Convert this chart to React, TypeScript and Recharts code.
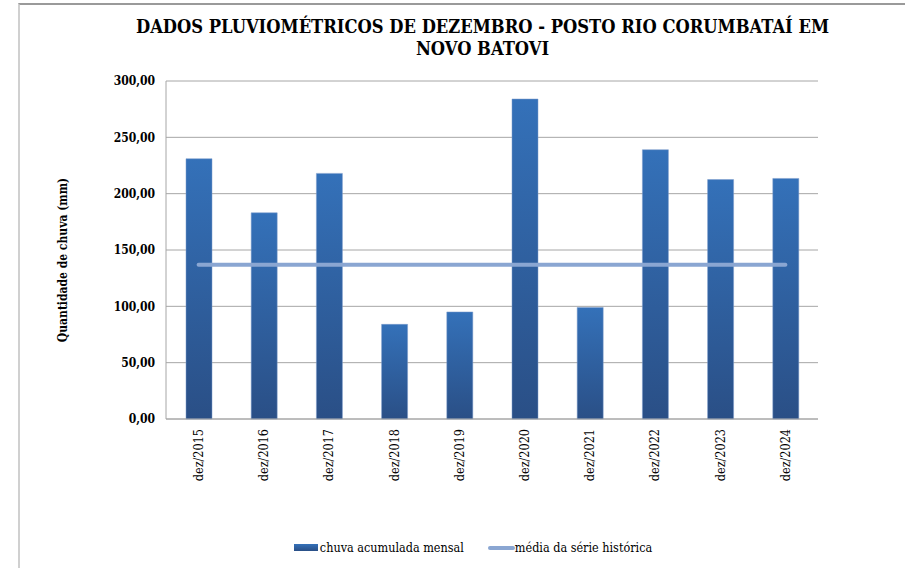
import React from 'react';
import { ComposedChart, Bar, Line, XAxis, YAxis, CartesianGrid, Legend } from 'recharts';

const meses = [
  'dez/2015', 'dez/2016', 'dez/2017', 'dez/2018', 'dez/2019',
  'dez/2020', 'dez/2021', 'dez/2022', 'dez/2023', 'dez/2024',
];
const chuvaMensal = [231, 183, 218, 84, 95, 284, 99, 239, 212.5, 213.5];
const mediaHistorica = [137, 137, 137, 137, 137, 137, 137, 137, 137, 137];
const yTicks = [0, 50, 100, 150, 200, 250, 300];

const data = meses.map((mes, i) => ({
  mes,
  chuva: chuvaMensal[i],
  media: mediaHistorica[i],
}));

// Times isn't available here, the condensed DejaVu serif is the closest fit
const FONT = '"DejaVu Serif Condensed", "DejaVu Serif", serif';
const fontStyle = { fontFamily: FONT, fontStretch: 'condensed' };
const BAR_TOP = '#3471b9';
const BAR_BOTTOM = '#2a4f86';
const LINE_COLOR = '#8aa6d2';

const formatTick = (v: number) => v.toFixed(2).replace('.', ',');

const XTick = ({ x, y, payload }: any) => (
  <text
    x={x}
    y={y + 2}
    transform={`rotate(-90, ${x}, ${y + 2})`}
    textAnchor="end"
    dy="0.35em"
    style={fontStyle}
    fontSize={12.5}
    fill="#000"
  >
    {payload.value}
  </text>
);

const YLabel = () => (
  <text
    x={63}
    y={260}
    transform="rotate(-90, 63, 260)"
    textAnchor="middle"
    dy="0.35em"
    style={fontStyle}
    fontSize={12}
    fontWeight="bold"
    fill="#000"
  >
    Quantidade de chuva (mm)
  </text>
);

const LegendContent = () => (
  <div
    style={{
      ...fontStyle,
      display: 'flex',
      alignItems: 'center',
      justifyContent: 'center',
      fontSize: 12.5,
      color: '#000',
      paddingLeft: 41,
    }}
  >
    <span
      style={{
        display: 'inline-block',
        width: 24,
        height: 7,
        background: `linear-gradient(${BAR_TOP}, ${BAR_BOTTOM})`,
        marginRight: 2,
      }}
    />
    <span>chuva acumulada mensal</span>
    <span
      style={{
        display: 'inline-block',
        width: 27,
        height: 4,
        borderRadius: 2,
        background: LINE_COLOR,
        marginLeft: 24,
      }}
    />
    <span>média da série histórica</span>
  </div>
);

export default function App() {
  return (
    <div
      style={{
        position: 'absolute',
        left: 0,
        top: 0,
        width: 905,
        height: 568,
        overflow: 'hidden',
        background: '#fff',
      }}
    >
      <div
        style={{
          position: 'absolute',
          left: 18,
          top: 3,
          width: 920,
          height: 600,
          borderTop: '2px solid #9a9a9a',
          borderLeft: '2px solid #d0d0d0',
        }}
      />
      <div
        style={{
          ...fontStyle,
          position: 'absolute',
          left: 0,
          top: 16,
          width: 965,
          textAlign: 'center',
          fontSize: 18.2,
          fontWeight: 'bold',
          lineHeight: '22px',
          color: '#000',
        }}
      >
        DADOS PLUVIOMÉTRICOS DE DEZEMBRO - POSTO RIO CORUMBATAÍ EM
        <br />
        NOVO BATOVI
      </div>
      <div style={{ position: 'absolute', left: 0, top: 0 }}>
        <ComposedChart
          width={905}
          height={568}
          data={data}
          margin={{ top: 81, right: 87, bottom: 0, left: 0 }}
        >
          <defs>
            <linearGradient id="barGrad" x1="0" y1="0" x2="0" y2="1">
              <stop offset="0%" stopColor={BAR_TOP} />
              <stop offset="100%" stopColor={BAR_BOTTOM} />
            </linearGradient>
          </defs>
          <CartesianGrid vertical={false} stroke="#a6a6a6" />
          <XAxis
            dataKey="mes"
            height={149}
            interval={0}
            tickLine={false}
            axisLine={{ stroke: '#a6a6a6' }}
            tick={<XTick />}
          />
          <YAxis
            width={166}
            domain={[0, 300]}
            ticks={yTicks}
            tickFormatter={formatTick}
            tickLine={false}
            tickMargin={5}
            axisLine={{ stroke: '#a6a6a6' }}
            tick={{ style: fontStyle, fontSize: 12, fontWeight: 'bold', fill: '#000' }}
            label={<YLabel />}
          />
          <Legend
            layout="vertical"
            align="center"
            verticalAlign="middle"
            wrapperStyle={{ position: 'absolute', top: 540, left: 0, width: 905 }}
            content={<LegendContent />}
          />
          <Bar
            dataKey="chuva"
            name="chuva acumulada mensal"
            fill="url(#barGrad)"
            stroke="#7c9bcc"
            strokeOpacity={0.5}
            strokeWidth={1}
            barSize={26}
            isAnimationActive={false}
          />
          <Line
            dataKey="media"
            name="média da série histórica"
            stroke={LINE_COLOR}
            strokeWidth={4}
            strokeLinecap="round"
            dot={false}
            activeDot={false}
            isAnimationActive={false}
          />
        </ComposedChart>
      </div>
    </div>
  );
}
